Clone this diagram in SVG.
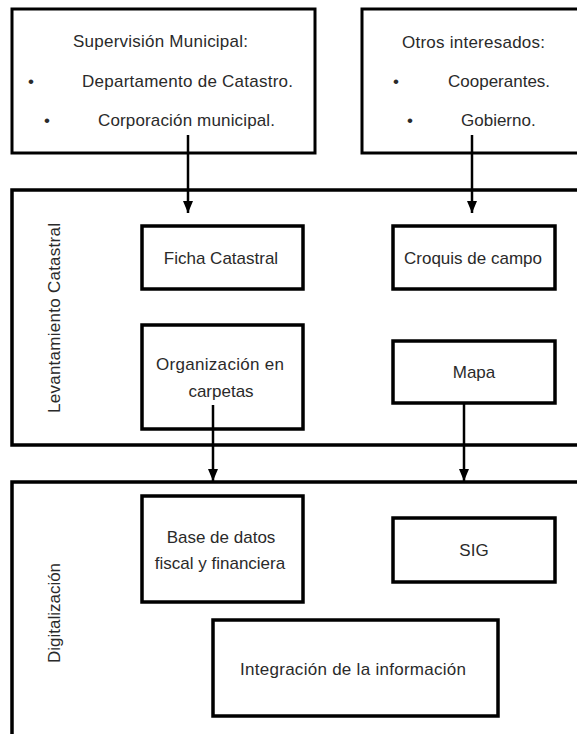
<svg xmlns="http://www.w3.org/2000/svg" width="577" height="734" viewBox="0 0 577 734">
<style>
  .box { fill: #ffffff; stroke: #000000; stroke-width: 3; }
  .inner { stroke-width: 3.5; }
  .cont { fill: #ffffff; stroke: #000000; stroke-width: 3.5; }
  .t { font-family: "Liberation Sans", Arial, sans-serif; font-size: 17px; fill: #2a2a2a; }
  .c { text-anchor: middle; }
  .conn { stroke: #000000; stroke-width: 2.5; fill: none; }
</style>
<defs>
  <marker id="arr" markerUnits="userSpaceOnUse" markerWidth="12" markerHeight="10" viewBox="0 0 12 10" refX="12" refY="5" orient="auto">
    <path d="M0,0 L12,5 L0,10 Z" fill="#000000"/>
  </marker>
</defs>
<rect x="0" y="0" width="577" height="734" fill="#ffffff"/>

<g id="supervision">
  <rect class="box" x="12" y="9" width="303" height="144"/>
  <text class="t" x="73" y="47" textLength="175">Supervisión Municipal:</text>
  <text class="t" x="28" y="87">•</text>
  <text class="t" x="82" y="87" textLength="211">Departamento de Catastro.</text>
  <text class="t" x="44" y="126">•</text>
  <text class="t" x="98" y="126" textLength="177">Corporación municipal.</text>
</g>

<g id="otros">
  <rect class="box" x="362" y="9" width="240" height="144"/>
  <text class="t" x="402" y="48" textLength="143">Otros interesados:</text>
  <text class="t" x="393" y="87">•</text>
  <text class="t" x="448" y="87">Cooperantes.</text>
  <text class="t" x="407" y="126">•</text>
  <text class="t" x="461" y="126">Gobierno.</text>
</g>

<g id="levantamiento">
  <rect class="cont" x="12" y="190" width="600" height="255"/>
  <text class="t c" transform="translate(60,318) rotate(-90)" x="0" y="0" textLength="190">Levantamiento Catastral</text>
</g>

<g id="ficha">
  <rect class="box inner" x="142" y="226" width="161" height="63"/>
  <text class="t c" x="221" y="264">Ficha Catastral</text>
</g>

<g id="croquis">
  <rect class="box inner" x="393" y="226" width="162" height="63"/>
  <text class="t c" x="473" y="264">Croquis de campo</text>
</g>

<g id="organizacion">
  <rect class="box inner" x="142" y="325" width="161" height="104"/>
  <text class="t c" x="220" y="370" textLength="128">Organización en</text>
  <text class="t c" x="221" y="397">carpetas</text>
</g>

<g id="mapa">
  <rect class="box inner" x="393" y="341" width="162" height="62"/>
  <text class="t c" x="474" y="378">Mapa</text>
</g>

<g id="digitalizacion">
  <rect class="cont" x="12" y="482" width="600" height="300"/>
  <text class="t c" transform="translate(60,613) rotate(-90)" x="0" y="0">Digitalización</text>
</g>

<g id="basedatos">
  <rect class="box inner" x="142" y="496" width="161" height="106"/>
  <text class="t c" x="221" y="543">Base de datos</text>
  <text class="t c" x="220" y="569">fiscal y financiera</text>
</g>

<g id="sig">
  <rect class="box inner" x="393" y="518" width="162" height="64"/>
  <text class="t c" x="474" y="556">SIG</text>
</g>

<g id="integracion">
  <rect class="box inner" x="213" y="620" width="285" height="96"/>
  <text class="t c" x="353" y="675" textLength="226">Integración de la información</text>
</g>

<g id="connectors">
  <line class="conn" x1="188" y1="135" x2="188" y2="213" marker-end="url(#arr)"/>
  <line class="conn" x1="472" y1="135" x2="472" y2="213" marker-end="url(#arr)"/>
  <line class="conn" x1="213" y1="405" x2="213" y2="481" marker-end="url(#arr)"/>
  <line class="conn" x1="464" y1="403" x2="464" y2="481" marker-end="url(#arr)"/>
</g>
</svg>
